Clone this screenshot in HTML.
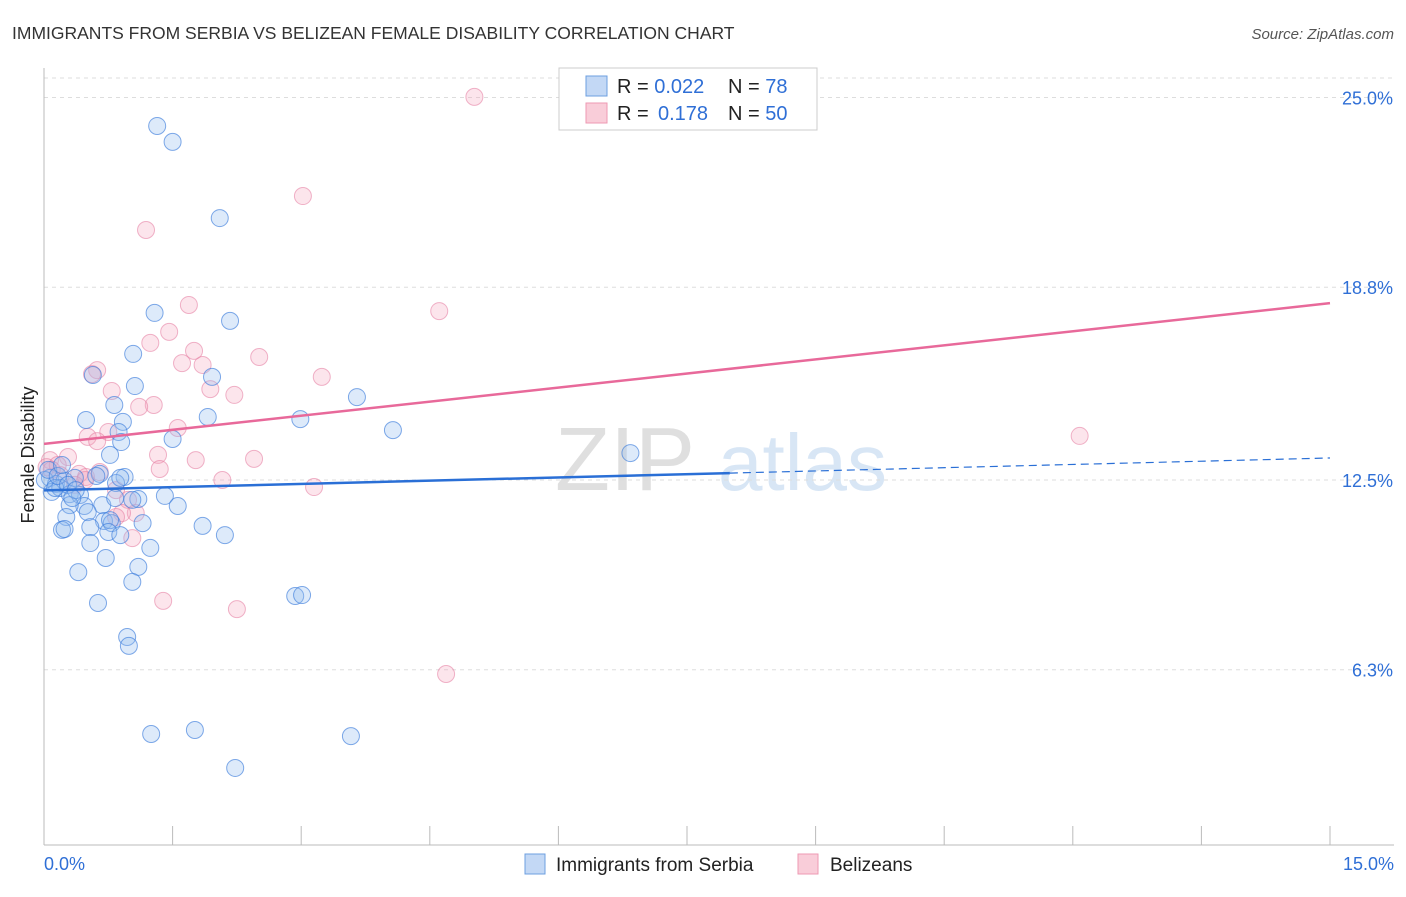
<!DOCTYPE html>
<html><head><meta charset="utf-8"><style>
body{margin:0;background:#fff;font-family:"Liberation Sans",sans-serif;}
svg text{font-family:"Liberation Sans",sans-serif;}
</style></head><body>
<svg id="chart" width="1406" height="892">
<text x="12" y="39" font-size="17.5" fill="#333">IMMIGRANTS FROM SERBIA VS BELIZEAN FEMALE DISABILITY CORRELATION CHART</text>
<text x="1394" y="39" font-size="15" fill="#555" font-style="italic" text-anchor="end">Source: ZipAtlas.com</text>
<text x="34" y="455" font-size="18" fill="#222" text-anchor="middle" transform="rotate(-90 34 455)">Female Disability</text>
<g><text x="555" y="490" font-size="90" fill="#d8d8d8" font-family="Liberation Serif" opacity="0.8">ZIP</text><text x="718" y="490" font-size="80" fill="#cfe0f3" opacity="0.8">atlas</text></g>
<g id="grid"></g><g id="axes"></g><g id="pts"></g><g id="lines"></g>
<g>
<rect x="559" y="68" width="258" height="62" fill="#fff" stroke="#ccc"/>
<rect x="586" y="76" width="21" height="20" fill="#c3d8f5" stroke="#6d9fe0"/>
<rect x="586" y="103" width="21" height="20" fill="#f9cdd9" stroke="#ee99b3"/>
<text x="617" y="93" font-size="20" fill="#222">R = <tspan fill="#2f6fd6">0.022</tspan><tspan x="728">N = </tspan><tspan fill="#2f6fd6">78</tspan></text>
<text x="617" y="120" font-size="20" fill="#222">R = <tspan fill="#2f6fd6" x="658">0.178</tspan><tspan x="728">N = </tspan><tspan fill="#2f6fd6">50</tspan></text>
</g>
<g>
<rect x="525" y="854" width="20" height="20" fill="#c3d8f5" stroke="#6d9fe0"/>
<text x="556" y="871" font-size="19" fill="#222">Immigrants from Serbia</text>
<rect x="798" y="854" width="20" height="20" fill="#f9cdd9" stroke="#ee99b3"/>
<text x="830" y="871" font-size="19" fill="#222">Belizeans</text>
</g>
</svg>
<script>
const yTicks=[25.0,18.8,12.5,6.3];
const yTickLabels=["25.0%","18.8%","12.5%","6.3%"];
const xTickLabels=["0.0%","15.0%"];
const serbiaX=[1.32,1.50,2.05,1.29,2.17,1.04,0.57,1.96,1.06,3.65,0.82,1.91,0.49,2.99,4.07,0.92,0.87,0.90,1.50,0.77,6.84,0.94,0.65,0.84,0.07,0.14,0.24,0.36,0.09,0.19,0.30,0.42,0.47,0.30,0.68,0.83,1.10,1.41,1.56,0.51,0.26,0.70,0.79,1.15,0.21,0.24,0.54,1.85,2.11,0.54,1.24,0.72,1.10,0.40,1.03,0.63,2.93,3.01,0.97,0.99,1.25,1.76,3.58,2.23,0.01,0.05,0.13,0.16,0.28,0.37,0.77,0.61,0.75,0.89,1.03,0.21,0.33,0.89];
const serbiaY=[24.07,23.55,21.06,17.96,17.70,16.62,15.93,15.87,15.57,15.21,14.95,14.56,14.46,14.49,14.13,14.40,14.07,13.74,13.84,13.32,13.38,12.60,12.70,12.40,12.57,12.37,12.47,12.57,12.11,12.24,12.04,12.01,11.65,11.68,11.68,11.91,11.88,11.98,11.65,11.45,11.29,11.16,11.09,11.09,10.87,10.90,10.96,11.00,10.70,10.44,10.28,9.95,9.66,9.49,9.17,8.48,8.71,8.74,7.37,7.08,4.20,4.33,4.13,3.09,12.50,12.83,12.24,12.63,12.34,12.17,11.19,12.63,10.80,10.70,11.85,12.99,11.91,12.57];
const belizeX=[5.02,3.02,1.19,4.61,1.69,1.46,1.24,1.75,0.62,1.61,1.85,2.51,0.56,3.24,0.79,1.94,2.22,1.28,1.11,1.56,0.75,0.51,0.62,12.08,2.45,1.33,1.77,0.28,0.07,1.35,0.03,0.16,0.41,0.49,2.08,3.15,0.84,0.98,1.07,0.91,0.84,1.03,1.39,2.25,4.69,0.19,0.48,0.09,0.36,0.65];
const belizeY=[25.02,21.78,20.67,18.02,18.22,17.34,16.98,16.72,16.09,16.32,16.26,16.52,15.96,15.87,15.41,15.47,15.28,14.95,14.89,14.20,14.07,13.91,13.77,13.94,13.19,13.32,13.15,13.25,13.15,12.86,12.92,12.99,12.70,12.60,12.50,12.27,12.17,11.85,11.42,11.42,11.29,10.60,8.55,8.28,6.16,12.66,12.50,12.83,12.34,12.76];
const serbiaTrend=[12.16,13.22];
const belizeTrend=[13.68,18.28];
const NS="http://www.w3.org/2000/svg";
const X0=44,X1=1330,Y0=862.5,PY=30.6;
const sx=v=>X0+(v/15)*(X1-X0);
const sy=v=>Y0-v*PY;
function mk(tag,attrs,parent){const e=document.createElementNS(NS,tag);for(const k in attrs)e.setAttribute(k,attrs[k]);document.getElementById(parent).appendChild(e);return e;}
let g=mk('line',{x1:X0,x2:1394,y1:78,y2:78,stroke:'#ddd','stroke-dasharray':'4 4'},'grid');


yTicks.forEach((t,i)=>{
 const l=mk('line',{x1:X0,x2:1394,y1:sy(t),y2:sy(t),stroke:'#ddd','stroke-dasharray':'4 4'},'grid');
 
 
 const tx=mk('text',{x:1393,y:sy(t)+7,'font-size':18,fill:'#2f6fd6','text-anchor':'end'},'grid');
 tx.textContent=yTickLabels[i];
 
 
});
let a=mk('line',{x1:X0,x2:X0,y1:68,y2:845,stroke:'#bbb'},'axes');


a=mk('line',{x1:X0,x2:1394,y1:845,y2:845,stroke:'#bbb'},'axes');


for(let i=0;i<=10;i++){const t=mk('line',{x1:sx(i*1.5),x2:sx(i*1.5),y1:826,y2:845,stroke:'#bbb'},'axes');
 
 }
let xl=mk('text',{x:44,y:870,'font-size':18,fill:'#2f6fd6'},'axes');xl.textContent=xTickLabels[0];


xl=mk('text',{x:1394,y:870,'font-size':18,fill:'#2f6fd6','text-anchor':'end'},'axes');xl.textContent=xTickLabels[1];


belizeX.forEach((v,i)=>{const c=mk('circle',{cx:sx(v),cy:sy(belizeY[i]),r:8.5,fill:'rgba(244,160,188,0.28)',stroke:'rgba(230,130,165,0.6)','stroke-width':1},'pts');
 
 });
serbiaX.forEach((v,i)=>{const c=mk('circle',{cx:sx(v),cy:sy(serbiaY[i]),r:8.5,fill:'rgba(150,190,240,0.32)',stroke:'rgba(60,125,220,0.65)','stroke-width':1},'pts');
 
 });
const bAt=x=>serbiaTrend[0]+(serbiaTrend[1]-serbiaTrend[0])*x/15;
let ln=mk('line',{x1:sx(0),y1:sy(bAt(0)),x2:sx(8),y2:sy(bAt(8)),stroke:'#2a6fd6','stroke-width':2.5},'lines');


ln=mk('line',{x1:sx(8),y1:sy(bAt(8)),x2:sx(15),y2:sy(bAt(15)),stroke:'#2a6fd6','stroke-width':1.2,'stroke-dasharray':'8 5'},'lines');


ln=mk('line',{x1:sx(0),y1:sy(belizeTrend[0]),x2:sx(15),y2:sy(belizeTrend[1]),stroke:'#e8699a','stroke-width':2.5},'lines');


</script>
</body></html>
